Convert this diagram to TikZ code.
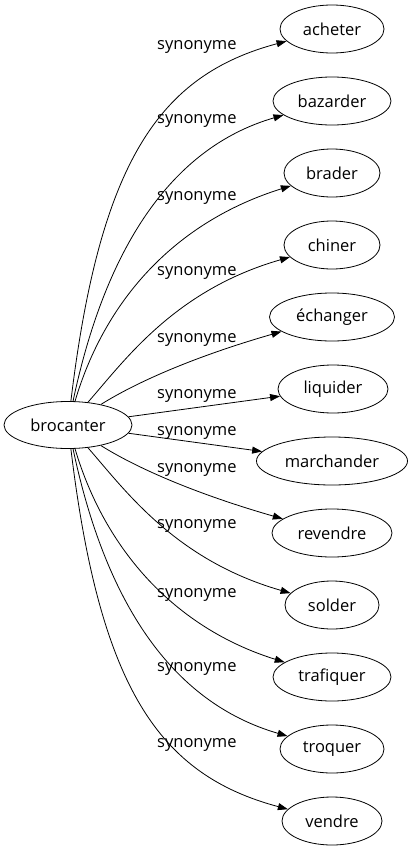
\documentclass[tikz,border=0pt]{standalone}
\usepackage{fontspec}
\setmainfont{Open Sans}
\usetikzlibrary{shapes.geometric,arrows.meta}
\tikzset{
  word/.style={draw, ellipse, inner sep=0pt, minimum height=48pt, line width=0.8pt, font=\fontsize{16.5}{20}\selectfont},
  syn/.style={anchor=base west, inner sep=0pt, font=\fontsize{16.5}{20}\selectfont},
  link/.style={line width=0.8pt, -{Triangle[length=10pt,width=7pt]}}
}
\begin{document}
\begin{tikzpicture}[x=1pt,y=-1pt]
\useasboundingbox (0,0) rectangle (413,851);
\node[word, minimum width=128pt, minimum height=47pt] (brocanter) at (68,425) {brocanter};
\node[word, minimum width=104pt] (acheter) at (332,29) {acheter};
\node[word, minimum width=118pt] (bazarder) at (332,101) {bazarder};
\node[word, minimum width=96pt] (brader) at (332,173) {brader};
\node[word, minimum width=96pt] (chiner) at (332,245) {chiner};
\node[word, minimum width=125pt] (echanger) at (332,317) {échanger};
\node[word, minimum width=110pt] (liquider) at (333,389) {liquider};
\node[word, minimum width=151pt] (marchander) at (332,461) {marchander};
\node[word, minimum width=120pt] (revendre) at (332,533) {revendre};
\node[word, minimum width=94pt] (solder) at (332,605) {solder};
\node[word, minimum width=118pt] (trafiquer) at (332,677) {trafiquer};
\node[word, minimum width=104pt] (troquer) at (332,749) {troquer};
\node[word, minimum width=100pt] (vendre) at (332,821) {vendre};

\node[syn] (l1) at (157,50) {synonyme};
\node[syn] (l2) at (157,123) {synonyme};
\node[syn] (l3) at (157,200) {synonyme};
\node[syn] (l4) at (157,275) {synonyme};
\node[syn] (l5) at (157,342) {synonyme};
\node[syn] (l6) at (157,398) {synonyme};
\node[syn] (l7) at (157,435) {synonyme};
\node[syn] (l8) at (157,472) {synonyme};
\node[syn] (l9) at (157,528) {synonyme};
\node[syn] (l10) at (157,597) {synonyme};
\node[syn] (l11) at (157,671) {synonyme};
\node[syn] (l12) at (157,747) {synonyme};

\draw[link] (brocanter) .. controls (100,160) and (160,75) .. (acheter);
\draw[link] (brocanter) .. controls (105,250) and (170,148) .. (bazarder);
\draw[link] (brocanter) .. controls (105,300) and (175,222) .. (brader);
\draw[link] (brocanter) .. controls (125,360) and (175,290) .. (chiner);
\draw[link] (brocanter) .. controls (140,380) and (200,355) .. (echanger);
\draw[link] (brocanter) -- (liquider);
\draw[link] (brocanter) -- (marchander);
\draw[link] (brocanter) .. controls (140,470) and (200,495) .. (revendre);
\draw[link] (brocanter) .. controls (125,490) and (175,560) .. (solder);
\draw[link] (brocanter) .. controls (105,550) and (175,628) .. (trafiquer);
\draw[link] (brocanter) .. controls (105,600) and (170,702) .. (troquer);
\draw[link] (brocanter) .. controls (100,690) and (160,775) .. (vendre);
\end{tikzpicture}
\end{document}
